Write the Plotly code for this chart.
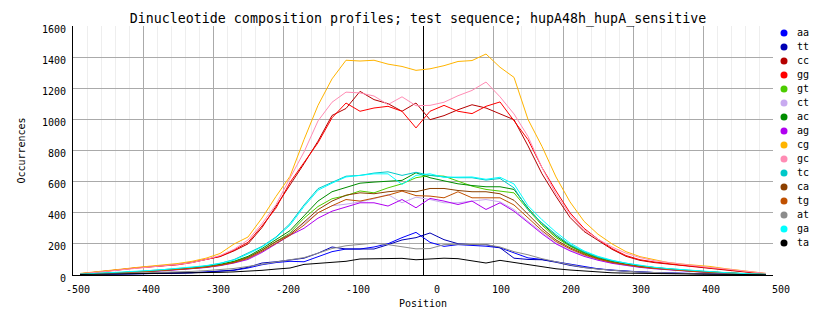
import plotly.graph_objects as go

positions = [-490, -470, -450, -430, -410, -390, -370, -350, -330, -310,
             -290, -270, -250, -230, -210, -190, -170, -150, -130, -110,
             -90, -70, -50, -30, -10, 10, 30, 50, 70, 90,
             110, 130, 150, 170, 190, 210, 230, 250, 270, 290,
             310, 330, 350, 370, 390, 410, 430, 450, 470, 490]

aa = [2, 3, 4, 5, 6, 8, 10, 12, 15, 20, 25, 30, 45, 66, 80, 88, 85, 115, 150, 167,
      167, 180, 201, 240, 274, 210, 184, 195, 190, 185, 175, 140, 110, 100, 85, 68,
      52, 40, 32, 25, 20, 16, 13, 10, 8, 6, 5, 4, 3, 2]
tt = [2, 3, 4, 5, 6, 7, 9, 11, 14, 18, 24, 32, 50, 77, 85, 95, 108, 140, 180, 167,
      167, 167, 195, 225, 240, 270, 227, 201, 195, 195, 175, 108, 100, 98, 82, 62,
      48, 38, 30, 24, 19, 15, 12, 10, 8, 6, 5, 4, 3, 2]
cc = [8, 16, 26, 36, 46, 53, 60, 68, 82, 102, 118, 155, 200, 305, 440, 575, 715, 860, 1025, 1070,
      1180, 1127, 1101, 1052, 1105, 998, 1024, 1062, 1094, 1073, 1037, 998, 830, 650, 505, 370,
      280, 220, 165, 120, 94, 80, 70, 61, 53, 44, 34, 24, 15, 7]
gg = [7, 15, 25, 35, 45, 52, 58, 66, 80, 98, 120, 160, 210, 315, 430, 595, 725, 850, 1010, 1105,
      1052, 1073, 1084, 1052, 945, 1052, 1090, 1052, 1037, 1084, 1112, 987, 870, 690, 540, 400,
      300, 230, 170, 125, 98, 84, 72, 63, 55, 46, 36, 26, 16, 8]
gt = [4, 7, 10, 14, 19, 25, 30, 36, 44, 53, 66, 85, 115, 160, 215, 270, 365, 440, 490, 510,
      540, 528, 560, 586, 625, 640, 635, 603, 571, 550, 539, 528, 420, 320, 240, 185,
      140, 108, 85, 68, 56, 46, 38, 30, 24, 18, 14, 10, 6, 3]
ct = [4, 6, 9, 13, 18, 23, 28, 34, 41, 50, 62, 80, 108, 152, 205, 265, 330, 400, 445, 455,
      470, 490, 517, 464, 500, 485, 464, 464, 475, 485, 470, 420, 345, 275, 205, 160,
      125, 98, 78, 62, 51, 42, 34, 27, 21, 16, 12, 8, 5, 3]
ac = [4, 7, 11, 15, 20, 26, 31, 38, 46, 55, 68, 88, 120, 170, 230, 285, 380, 475, 535, 565,
      590, 597, 603, 608, 657, 625, 605, 586, 575, 567, 567, 550, 430, 330, 250, 190,
      145, 112, 88, 70, 58, 47, 39, 31, 25, 19, 14, 10, 6, 4]
ag = [3, 6, 9, 12, 17, 22, 27, 33, 40, 48, 60, 77, 100, 145, 200, 255, 300, 365, 410, 435,
      464, 464, 443, 485, 432, 492, 475, 453, 475, 421, 464, 410, 335, 265, 200, 155,
      120, 95, 75, 60, 49, 40, 33, 26, 20, 15, 11, 8, 5, 3]
cg = [10, 18, 28, 38, 48, 56, 64, 74, 88, 108, 138, 199, 244, 366, 505, 634, 870, 1090, 1260, 1380,
      1375, 1380, 1355, 1340, 1315, 1325, 1345, 1372, 1378, 1420, 1335, 1270, 1000, 826, 630, 470,
      345, 262, 200, 150, 118, 100, 80, 70, 62, 55, 42, 30, 20, 10]
gc = [8, 15, 24, 34, 44, 52, 60, 68, 80, 100, 125, 165, 225, 330, 452, 623, 790, 990, 1110, 1175,
      1170, 1150, 1095, 1145, 1088, 1090, 1110, 1152, 1186, 1240, 1145, 1035, 890, 690, 520, 390,
      290, 230, 180, 140, 112, 92, 80, 68, 58, 48, 40, 30, 20, 10]
tc = [5, 8, 12, 16, 22, 28, 33, 40, 48, 58, 74, 99, 141, 184, 244, 330, 450, 555, 595, 635,
      640, 655, 663, 640, 660, 640, 630, 625, 625, 610, 620, 560, 420, 335, 260, 195,
      150, 115, 92, 74, 60, 48, 40, 33, 26, 20, 15, 10, 7, 4]
ca = [4, 7, 10, 14, 19, 24, 29, 35, 43, 52, 64, 82, 112, 160, 215, 260, 340, 420, 475, 513,
      528, 522, 535, 543, 535, 556, 556, 543, 535, 535, 522, 480, 390, 300, 225, 175,
      135, 105, 82, 66, 54, 44, 36, 29, 23, 18, 13, 9, 6, 3]
tg = [4, 6, 9, 13, 18, 23, 28, 34, 42, 50, 62, 80, 106, 152, 205, 255, 320, 400, 445, 485,
      475, 492, 513, 539, 510, 507, 496, 535, 496, 496, 496, 450, 365, 285, 215, 168,
      130, 102, 80, 64, 52, 43, 35, 28, 22, 17, 13, 9, 6, 3]
at = [3, 5, 7, 9, 11, 13, 16, 19, 23, 28, 35, 42, 55, 70, 85, 100, 112, 140, 170, 188,
      195, 205, 195, 183, 168, 170, 195, 198, 195, 195, 180, 150, 130, 105, 85, 65,
      48, 38, 30, 24, 19, 15, 12, 10, 8, 7, 6, 5, 4, 3]
ga = [5, 9, 13, 17, 23, 29, 35, 42, 50, 60, 76, 96, 135, 180, 240, 320, 440, 545, 590, 630,
      640, 650, 650, 582, 640, 650, 628, 630, 630, 615, 628, 585, 445, 355, 275, 205,
      155, 120, 95, 76, 62, 50, 41, 34, 27, 21, 16, 11, 7, 4]
ta = [3, 4, 5, 6, 7, 8, 9, 11, 13, 15, 17, 20, 23, 30, 38, 45, 68, 75, 82, 88,
      103, 103, 105, 107, 98, 103, 108, 105, 92, 77, 94, 81, 68, 55, 40, 32,
      25, 18, 14, 12, 10, 9, 8, 7, 6, 5, 4, 3, 3, 2]

names = ["aa", "tt", "cc", "gg", "gt", "ct", "ac", "ag", "cg", "gc", "tc", "ca", "tg", "at", "ga", "ta"]
series = [aa, tt, cc, gg, gt, ct, ac, ag, cg, gc, tc, ca, tg, at, ga, ta]
colors = ["#0000ff", "#0000b4", "#b40000", "#ff0000", "#4ccc00", "#c8aaf0", "#008c00", "#b000f0",
          "#ffb400", "#ff8cb4", "#00c8c8", "#8c4000", "#c05000", "#8c8c8c", "#00ffff", "#000000"]

x_tickvals = [-500, -400, -300, -200, -100, 0, 100, 200, 300, 400, 500]
y_tickvals = [0, 200, 400, 600, 800, 1000, 1200, 1400, 1600]

MONO = "DejaVu Sans Mono"
NB = "\u00a0"

fig = go.Figure()
for name, vals, col in zip(names, series, colors):
    fig.add_trace(go.Scatter(x=positions, y=vals, mode="lines", name=name,
                             line=dict(color=col, width=1), showlegend=False,
                             hoverinfo="skip"))

# legend drawn as a scatter on an auxiliary axis
leg_idx = list(range(len(names)))
fig.add_trace(go.Scatter(x=[11] * len(names), y=leg_idx, mode="markers",
                         marker=dict(color=colors, size=7, symbol="circle"),
                         xaxis="x2", yaxis="y2", showlegend=False, hoverinfo="skip",
                         cliponaxis=False))
fig.add_trace(go.Scatter(x=[24] * len(names), y=leg_idx, mode="text", text=names,
                         textposition="middle right",
                         textfont=dict(family=MONO, size=10, color="black"),
                         xaxis="x2", yaxis="y2", showlegend=False, hoverinfo="skip",
                         cliponaxis=False))

W, H = 834, 328
L, T, B = 73, 26, 53
plot_w = 700
dom = plot_w / (W - L)

fig.update_layout(
    template="none",
    width=W, height=H,
    margin=dict(l=L, r=0, t=T, b=B, pad=0, autoexpand=False),
    paper_bgcolor="white", plot_bgcolor="white",
    font=dict(family=MONO, size=10, color="black"),
    title=dict(text="Dinucleotide composition profiles; test sequence; hupA48h_hupA_sensitive",
               x=418 / W, xref="container", xanchor="center",
               y=1 - 18 / H, yref="container", yanchor="middle",
               font=dict(family=MONO, size=13.3, color="black")),
    xaxis=dict(domain=[0, dom], range=[-500, 500], tickvals=x_tickvals, automargin=False,
               ticktext=[(NB * 4 + str(v))[-4:] for v in x_tickvals],
               ticks="", ticklabelshift=5, ticklabelstandoff=5,
               showgrid=True, gridcolor="#aaaaaa", gridwidth=1,
               minor=dict(dtick=20, tick0=0, showgrid=True, gridcolor="#eeeeee", gridwidth=1),
               zeroline=True, zerolinecolor="black", zerolinewidth=1,
               showline=True, linecolor="black", linewidth=1,
               title=dict(text="Position", standoff=5, font=dict(family=MONO, size=10))),
    yaxis=dict(range=[0, 1600], tickvals=y_tickvals, ticks="", automargin=False,
               ticklabelstandoff=4, ticklabelshift=3,
               showgrid=True, gridcolor="#aaaaaa", gridwidth=1,
               zeroline=False, showline=True, linecolor="black", linewidth=1,
               title=dict(text="Occurrences", standoff=14, font=dict(family=MONO, size=10))),
    xaxis2=dict(domain=[dom, 1], range=[0, W - L - plot_w], anchor="y2", visible=False,
                automargin=False),
    yaxis2=dict(domain=[0, 1], range=[-0.5 + 249 / 14, -0.5], anchor="x2", visible=False,
                automargin=False),
)

fig.write_html("out.html")
